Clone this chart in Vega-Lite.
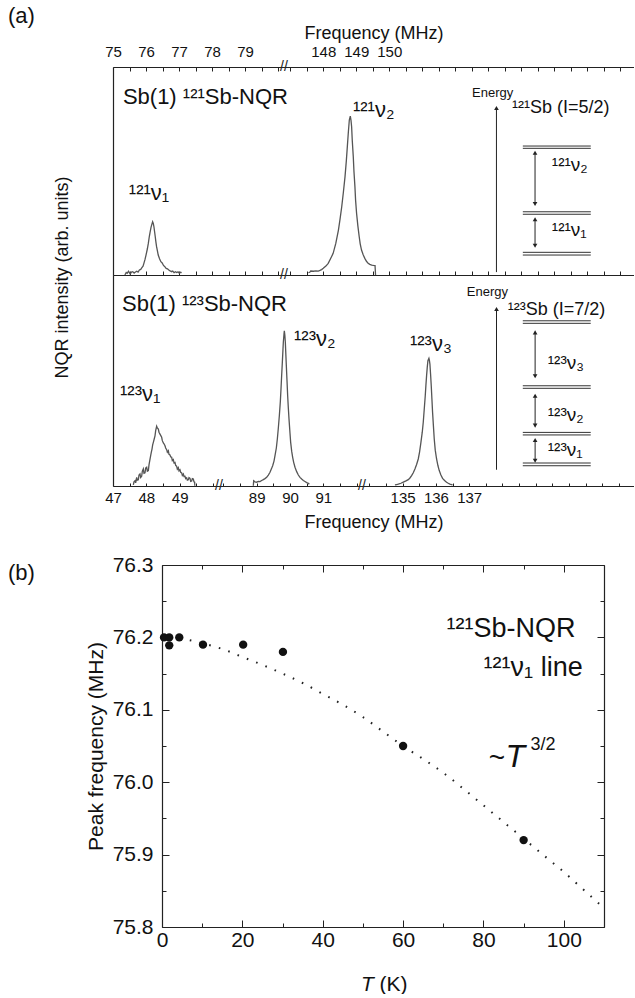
{
"$schema": "https://vega.github.io/schema/vega-lite/v6.json",
"padding": {"left": 8, "top": 5, "right": 0, "bottom": 0},
"config": {
  "font": "Liberation Sans",
  "view": {"stroke": null},
  "axis": {"domainColor": "#222", "tickColor": "#222", "labelColor": "#111", "titleColor": "#111", "titleFontWeight": "normal", "grid": false, "domainWidth": 1.2, "tickWidth": 1},
  "title": {"fontWeight": "normal", "color": "#111"}
},
"datasets": {
  "sA1": [
    {"f":75.36,"I":0.0,"s":"n1"},{"f":75.40,"I":0.012,"s":"n1"},{"f":75.43,"I":0.008,"s":"n1"},{"f":75.47,"I":0.018,"s":"n1"},{"f":75.52,"I":0.005,"s":"n1"},{"f":75.56,"I":0.014,"s":"n1"},{"f":75.60,"I":0.016,"s":"n1"},{"f":75.64,"I":0.009,"s":"n1"},{"f":75.67,"I":0.013,"s":"n1"},{"f":75.72,"I":0.018,"s":"n1"},{"f":75.76,"I":0.014,"s":"n1"},{"f":75.80,"I":0.024,"s":"n1"},{"f":75.84,"I":0.027,"s":"n1"},{"f":75.87,"I":0.034,"s":"n1"},{"f":75.91,"I":0.042,"s":"n1"},{"f":75.94,"I":0.058,"s":"n1"},{"f":75.97,"I":0.075,"s":"n1"},{"f":76.00,"I":0.096,"s":"n1"},{"f":76.04,"I":0.125,"s":"n1"},{"f":76.07,"I":0.152,"s":"n1"},{"f":76.10,"I":0.185,"s":"n1"},{"f":76.12,"I":0.203,"s":"n1"},{"f":76.15,"I":0.228,"s":"n1"},{"f":76.17,"I":0.240,"s":"n1"},{"f":76.20,"I":0.256,"s":"n1"},{"f":76.22,"I":0.248,"s":"n1"},{"f":76.24,"I":0.232,"s":"n1"},{"f":76.26,"I":0.208,"s":"n1"},{"f":76.28,"I":0.184,"s":"n1"},{"f":76.30,"I":0.158,"s":"n1"},{"f":76.32,"I":0.136,"s":"n1"},{"f":76.35,"I":0.112,"s":"n1"},{"f":76.37,"I":0.096,"s":"n1"},{"f":76.41,"I":0.078,"s":"n1"},{"f":76.45,"I":0.064,"s":"n1"},{"f":76.49,"I":0.058,"s":"n1"},{"f":76.53,"I":0.046,"s":"n1"},{"f":76.57,"I":0.040,"s":"n1"},{"f":76.61,"I":0.032,"s":"n1"},{"f":76.65,"I":0.030,"s":"n1"},{"f":76.69,"I":0.024,"s":"n1"},{"f":76.73,"I":0.020,"s":"n1"},{"f":76.78,"I":0.016,"s":"n1"},{"f":76.81,"I":0.019,"s":"n1"},{"f":76.85,"I":0.011,"s":"n1"},{"f":76.89,"I":0.016,"s":"n1"},{"f":76.93,"I":0.012,"s":"n1"},{"f":76.97,"I":0.015,"s":"n1"},{"f":77.01,"I":0.008,"s":"n1"},{"f":77.04,"I":0.013,"s":"n1"},{"f":77.08,"I":0.011,"s":"n1"},
    {"f":147.55,"I":0.011,"s":"n2"},{"f":147.59,"I":0.013,"s":"n2"},{"f":147.62,"I":0.019,"s":"n2"},{"f":147.70,"I":0.018,"s":"n2"},{"f":147.78,"I":0.020,"s":"n2"},{"f":147.85,"I":0.019,"s":"n2"},{"f":147.90,"I":0.022,"s":"n2"},{"f":147.95,"I":0.026,"s":"n2"},{"f":148.00,"I":0.032,"s":"n2"},{"f":148.08,"I":0.043,"s":"n2"},{"f":148.15,"I":0.056,"s":"n2"},{"f":148.22,"I":0.078,"s":"n2"},{"f":148.30,"I":0.104,"s":"n2"},{"f":148.38,"I":0.152,"s":"n2"},{"f":148.46,"I":0.216,"s":"n2"},{"f":148.51,"I":0.270,"s":"n2"},{"f":148.56,"I":0.328,"s":"n2"},{"f":148.61,"I":0.398,"s":"n2"},{"f":148.66,"I":0.473,"s":"n2"},{"f":148.70,"I":0.550,"s":"n2"},{"f":148.73,"I":0.617,"s":"n2"},{"f":148.76,"I":0.685,"s":"n2"},{"f":148.79,"I":0.745,"s":"n2"},{"f":148.82,"I":0.764,"s":"n2"},{"f":148.84,"I":0.745,"s":"n2"},{"f":148.86,"I":0.713,"s":"n2"},{"f":148.88,"I":0.645,"s":"n2"},{"f":148.91,"I":0.569,"s":"n2"},{"f":148.93,"I":0.500,"s":"n2"},{"f":148.96,"I":0.425,"s":"n2"},{"f":148.98,"I":0.360,"s":"n2"},{"f":149.01,"I":0.297,"s":"n2"},{"f":149.05,"I":0.235,"s":"n2"},{"f":149.09,"I":0.184,"s":"n2"},{"f":149.12,"I":0.150,"s":"n2"},{"f":149.16,"I":0.120,"s":"n2"},{"f":149.21,"I":0.097,"s":"n2"},{"f":149.26,"I":0.080,"s":"n2"},{"f":149.31,"I":0.066,"s":"n2"},{"f":149.36,"I":0.056,"s":"n2"},{"f":149.41,"I":0.051,"s":"n2"},{"f":149.47,"I":0.048,"s":"n2"},{"f":149.52,"I":0.046,"s":"n2"},{"f":149.57,"I":0.045,"s":"n2"},{"f":149.585,"I":0.0,"s":"n2"}
  ],
  "lA1": [
    {"x1":154.05,"x2":156.11,"y":0.620},{"x1":154.05,"x2":156.11,"y":0.609},
    {"x1":154.05,"x2":156.11,"y":0.304},{"x1":154.05,"x2":156.11,"y":0.292},
    {"x1":154.05,"x2":156.11,"y":0.109},{"x1":154.05,"x2":156.11,"y":0.096}
  ],
  "rA1": [
    {"x":153.25,"y1":0.014,"y2":0.803,"k":"m"},
    {"x":154.42,"y1":0.341,"y2":0.588,"k":"d"},
    {"x":154.42,"y1":0.141,"y2":0.268,"k":"d"}
  ],
  "tA1": [
    {"f":75.30,"I":0.822,"t":"Sb(1) ¹²¹Sb-NQR","r":"big"},
    {"f":75.48,"I":0.36,"t":"¹²¹ν₁","r":"big"},
    {"f":148.90,"I":0.761,"t":"¹²¹ν₂","r":"big"},
    {"f":152.51,"I":0.856,"t":"Energy","r":"energy"},
    {"f":153.72,"I":0.777,"t":"¹²¹Sb (I=5/2)","r":"iso"},
    {"f":154.93,"I":0.501,"t":"¹²¹ν₂","r":"diag"},
    {"f":154.93,"I":0.1875,"t":"¹²¹ν₁","r":"diag"},
    {"f":80.18,"I":1,"t":"//","r":"brk"},
    {"f":80.18,"I":0,"t":"//","r":"brk"}
  ],
  "sA2": [
    {"f":47.61,"I":0.005,"s":"n1"},{"f":47.63,"I":0.02,"s":"n1"},{"f":47.66,"I":0.025,"s":"n1"},{"f":47.68,"I":0.015,"s":"n1"},{"f":47.71,"I":0.041,"s":"n1"},{"f":47.73,"I":0.028,"s":"n1"},{"f":47.76,"I":0.030,"s":"n1"},{"f":47.78,"I":0.052,"s":"n1"},{"f":47.81,"I":0.057,"s":"n1"},{"f":47.83,"I":0.040,"s":"n1"},{"f":47.86,"I":0.046,"s":"n1"},{"f":47.88,"I":0.070,"s":"n1"},{"f":47.91,"I":0.081,"s":"n1"},{"f":47.93,"I":0.060,"s":"n1"},{"f":47.96,"I":0.062,"s":"n1"},{"f":47.98,"I":0.085,"s":"n1"},{"f":48.01,"I":0.089,"s":"n1"},{"f":48.03,"I":0.070,"s":"n1"},{"f":48.06,"I":0.073,"s":"n1"},{"f":48.08,"I":0.100,"s":"n1"},{"f":48.10,"I":0.118,"s":"n1"},{"f":48.13,"I":0.144,"s":"n1"},{"f":48.15,"I":0.160,"s":"n1"},{"f":48.17,"I":0.175,"s":"n1"},{"f":48.19,"I":0.195,"s":"n1"},{"f":48.21,"I":0.207,"s":"n1"},{"f":48.24,"I":0.225,"s":"n1"},{"f":48.26,"I":0.238,"s":"n1"},{"f":48.28,"I":0.262,"s":"n1"},{"f":48.31,"I":0.283,"s":"n1"},{"f":48.33,"I":0.275,"s":"n1"},{"f":48.36,"I":0.270,"s":"n1"},{"f":48.38,"I":0.255,"s":"n1"},{"f":48.41,"I":0.246,"s":"n1"},{"f":48.43,"I":0.240,"s":"n1"},{"f":48.46,"I":0.231,"s":"n1"},{"f":48.48,"I":0.215,"s":"n1"},{"f":48.51,"I":0.204,"s":"n1"},{"f":48.53,"I":0.200,"s":"n1"},{"f":48.56,"I":0.191,"s":"n1"},{"f":48.58,"I":0.180,"s":"n1"},{"f":48.61,"I":0.172,"s":"n1"},{"f":48.63,"I":0.160,"s":"n1"},{"f":48.66,"I":0.167,"s":"n1"},{"f":48.68,"I":0.150,"s":"n1"},{"f":48.71,"I":0.147,"s":"n1"},{"f":48.73,"I":0.138,"s":"n1"},{"f":48.76,"I":0.136,"s":"n1"},{"f":48.78,"I":0.120,"s":"n1"},{"f":48.81,"I":0.125,"s":"n1"},{"f":48.83,"I":0.110,"s":"n1"},{"f":48.86,"I":0.112,"s":"n1"},{"f":48.88,"I":0.098,"s":"n1"},{"f":48.91,"I":0.093,"s":"n1"},{"f":48.93,"I":0.080,"s":"n1"},{"f":48.96,"I":0.087,"s":"n1"},{"f":48.98,"I":0.072,"s":"n1"},{"f":49.01,"I":0.077,"s":"n1"},{"f":49.03,"I":0.065,"s":"n1"},{"f":49.06,"I":0.062,"s":"n1"},{"f":49.08,"I":0.050,"s":"n1"},{"f":49.11,"I":0.057,"s":"n1"},{"f":49.13,"I":0.045,"s":"n1"},{"f":49.16,"I":0.046,"s":"n1"},{"f":49.18,"I":0.035,"s":"n1"},{"f":49.21,"I":0.039,"s":"n1"},{"f":49.23,"I":0.028,"s":"n1"},{"f":49.26,"I":0.030,"s":"n1"},{"f":49.28,"I":0.040,"s":"n1"},{"f":49.31,"I":0.036,"s":"n1"},{"f":49.33,"I":0.022,"s":"n1"},{"f":49.36,"I":0.024,"s":"n1"},{"f":49.38,"I":0.035,"s":"n1"},{"f":49.41,"I":0.033,"s":"n1"},{"f":49.43,"I":0.020,"s":"n1"},{"f":49.45,"I":0.018,"s":"n1"},{"f":49.455,"I":0.001,"s":"n1"},
    {"f":88.90,"I":0.001,"s":"n2"},{"f":88.91,"I":0.025,"s":"n2"},{"f":88.95,"I":0.02,"s":"n2"},{"f":89.00,"I":0.018,"s":"n2"},{"f":89.05,"I":0.022,"s":"n2"},{"f":89.10,"I":0.021,"s":"n2"},{"f":89.15,"I":0.026,"s":"n2"},{"f":89.20,"I":0.030,"s":"n2"},{"f":89.25,"I":0.035,"s":"n2"},{"f":89.30,"I":0.041,"s":"n2"},{"f":89.35,"I":0.052,"s":"n2"},{"f":89.40,"I":0.065,"s":"n2"},{"f":89.44,"I":0.080,"s":"n2"},{"f":89.48,"I":0.096,"s":"n2"},{"f":89.52,"I":0.118,"s":"n2"},{"f":89.55,"I":0.144,"s":"n2"},{"f":89.59,"I":0.180,"s":"n2"},{"f":89.62,"I":0.223,"s":"n2"},{"f":89.65,"I":0.275,"s":"n2"},{"f":89.68,"I":0.333,"s":"n2"},{"f":89.71,"I":0.400,"s":"n2"},{"f":89.73,"I":0.460,"s":"n2"},{"f":89.75,"I":0.525,"s":"n2"},{"f":89.77,"I":0.586,"s":"n2"},{"f":89.79,"I":0.650,"s":"n2"},{"f":89.80,"I":0.681,"s":"n2"},{"f":89.82,"I":0.720,"s":"n2"},{"f":89.83,"I":0.736,"s":"n2"},{"f":89.845,"I":0.715,"s":"n2"},{"f":89.86,"I":0.681,"s":"n2"},{"f":89.875,"I":0.625,"s":"n2"},{"f":89.89,"I":0.570,"s":"n2"},{"f":89.91,"I":0.500,"s":"n2"},{"f":89.93,"I":0.428,"s":"n2"},{"f":89.95,"I":0.370,"s":"n2"},{"f":89.97,"I":0.318,"s":"n2"},{"f":90.00,"I":0.250,"s":"n2"},{"f":90.02,"I":0.207,"s":"n2"},{"f":90.05,"I":0.165,"s":"n2"},{"f":90.08,"I":0.136,"s":"n2"},{"f":90.11,"I":0.112,"s":"n2"},{"f":90.15,"I":0.089,"s":"n2"},{"f":90.20,"I":0.068,"s":"n2"},{"f":90.25,"I":0.052,"s":"n2"},{"f":90.30,"I":0.041,"s":"n2"},{"f":90.35,"I":0.033,"s":"n2"},{"f":90.40,"I":0.026,"s":"n2"},{"f":90.45,"I":0.021,"s":"n2"},{"f":90.50,"I":0.016,"s":"n2"},{"f":90.55,"I":0.013,"s":"n2"},{"f":90.58,"I":0.008,"s":"n2"},
    {"f":134.77,"I":0.005,"s":"n3"},{"f":134.82,"I":0.007,"s":"n3"},{"f":134.87,"I":0.009,"s":"n3"},{"f":134.95,"I":0.013,"s":"n3"},{"f":135.02,"I":0.018,"s":"n3"},{"f":135.10,"I":0.024,"s":"n3"},{"f":135.17,"I":0.030,"s":"n3"},{"f":135.22,"I":0.038,"s":"n3"},{"f":135.27,"I":0.049,"s":"n3"},{"f":135.32,"I":0.063,"s":"n3"},{"f":135.37,"I":0.081,"s":"n3"},{"f":135.42,"I":0.102,"s":"n3"},{"f":135.47,"I":0.128,"s":"n3"},{"f":135.51,"I":0.162,"s":"n3"},{"f":135.55,"I":0.207,"s":"n3"},{"f":135.59,"I":0.255,"s":"n3"},{"f":135.62,"I":0.302,"s":"n3"},{"f":135.65,"I":0.365,"s":"n3"},{"f":135.68,"I":0.428,"s":"n3"},{"f":135.70,"I":0.478,"s":"n3"},{"f":135.72,"I":0.523,"s":"n3"},{"f":135.74,"I":0.562,"s":"n3"},{"f":135.76,"I":0.594,"s":"n3"},{"f":135.79,"I":0.605,"s":"n3"},{"f":135.805,"I":0.595,"s":"n3"},{"f":135.82,"I":0.578,"s":"n3"},{"f":135.84,"I":0.530,"s":"n3"},{"f":135.86,"I":0.475,"s":"n3"},{"f":135.88,"I":0.412,"s":"n3"},{"f":135.90,"I":0.349,"s":"n3"},{"f":135.925,"I":0.285,"s":"n3"},{"f":135.95,"I":0.223,"s":"n3"},{"f":135.98,"I":0.170,"s":"n3"},{"f":136.02,"I":0.128,"s":"n3"},{"f":136.06,"I":0.097,"s":"n3"},{"f":136.10,"I":0.073,"s":"n3"},{"f":136.15,"I":0.052,"s":"n3"},{"f":136.20,"I":0.036,"s":"n3"},{"f":136.26,"I":0.026,"s":"n3"},{"f":136.32,"I":0.018,"s":"n3"},{"f":136.37,"I":0.013,"s":"n3"},{"f":136.42,"I":0.009,"s":"n3"},{"f":136.50,"I":0.005,"s":"n3"}
  ],
  "lA2": [
    {"x1":138.61,"x2":140.65,"y":0.783},{"x1":138.61,"x2":140.65,"y":0.771},
    {"x1":138.61,"x2":140.65,"y":0.475},{"x1":138.61,"x2":140.65,"y":0.463},
    {"x1":138.61,"x2":140.65,"y":0.254},{"x1":138.61,"x2":140.65,"y":0.242},
    {"x1":138.61,"x2":140.65,"y":0.109},{"x1":138.61,"x2":140.65,"y":0.096}
  ],
  "rA2": [
    {"x":137.82,"y1":0.077,"y2":0.839,"k":"m"},
    {"x":138.98,"y1":0.520,"y2":0.728,"k":"d"},
    {"x":138.98,"y1":0.286,"y2":0.428,"k":"d"},
    {"x":138.98,"y1":0.120,"y2":0.218,"k":"d"}
  ],
  "tA2": [
    {"f":47.27,"I":0.831,"t":"Sb(1) ¹²³Sb-NQR","r":"big"},
    {"f":47.21,"I":0.404,"t":"¹²³ν₁","r":"big"},
    {"f":90.12,"I":0.662,"t":"¹²³ν₂","r":"big"},
    {"f":135.22,"I":0.641,"t":"¹²³ν₃","r":"big"},
    {"f":136.93,"I":0.899,"t":"Energy","r":"energy"},
    {"f":138.16,"I":0.81,"t":"¹²³Sb (I=7/2)","r":"iso"},
    {"f":139.36,"I":0.555,"t":"¹²³ν₃","r":"diag"},
    {"f":139.36,"I":0.31,"t":"¹²³ν₂","r":"diag"},
    {"f":139.36,"I":0.144,"t":"¹²³ν₁","r":"diag"},
    {"f":50.18,"I":0,"t":"//","r":"brk"},
    {"f":92.16,"I":0,"t":"//","r":"brk"}
  ],
  "fit": [
    {"T":2,"F":76.200},{"T":5,"F":76.198},{"T":10,"F":76.192},{"T":15,"F":76.184},{"T":20,"F":76.173},{"T":25,"F":76.162},{"T":30,"F":76.150},{"T":35,"F":76.137},{"T":40,"F":76.122},{"T":45,"F":76.107},{"T":50,"F":76.090},{"T":55,"F":76.070},{"T":60,"F":76.050},{"T":65,"F":76.032},{"T":70,"F":76.013},{"T":75,"F":75.991},{"T":80,"F":75.968},{"T":85,"F":75.945},{"T":90,"F":75.922},{"T":95,"F":75.899},{"T":100,"F":75.876},{"T":105,"F":75.851},{"T":110,"F":75.826}
  ],
  "pts": [
    {"T":0.5,"F":76.20},{"T":1.8,"F":76.20},{"T":1.8,"F":76.189},{"T":4.3,"F":76.20},{"T":10.2,"F":76.19},{"T":20.2,"F":76.19},{"T":30.1,"F":76.18},{"T":60.0,"F":76.05},{"T":90.0,"F":75.92}
  ],
  "tB": [
    {"T":102.9,"F":76.2,"t":"¹²¹Sb-NQR","r":"lab"},
    {"T":104.7,"F":76.147,"t":"¹²¹ν₁ line","r":"lab"},
    {"T":81.3,"F":76.021,"t":"~","r":"tilde"},
    {"T":85.5,"F":76.021,"t":"T","r":"T"},
    {"T":91.7,"F":76.044,"t":"3/2","r":"exp"}
  ]
},
"columns": 1,
"spacing": 23,
"concat": [
  {
    "bounds": "flush",
    "spacing": 0,
    "vconcat": [
      {
        "width": 521, "height": 208,
        "title": {"text": "(a)", "anchor": "start", "frame": "group", "fontSize": 22, "dx": -105, "dy": 8},
        "layer": [
          {"data": {"name": "sA1"}, "mark": {"type": "line", "color": "#555", "strokeWidth": 1.3},
           "encoding": {
             "x": {"field": "f", "type": "quantitative",
                   "scale": {"domain": [75, 80.18, 146.81, 157.42], "range": [0, 171, 171, 521], "nice": false, "zero": false},
                   "axis": {"orient": "top", "values": [75,75.5,76,76.5,77,77.5,78,78.5,79,79.5,80,147,147.5,148,148.5,149,149.5,150,150.5,151,151.5,152,152.5,153,153.5,154,154.5,155,155.5,156,156.5,157],
                            "labelExpr": "indexof([75,76,77,78,79,148,149,150], datum.value) >= 0 ? datum.label : ''",
                            "domain": true, "ticks": true,
                            "tickSize": -4, "labelPadding": 12, "labelFontSize": 15, "labelOverlap": false, "labelBound": false, "labelFlush": false,
                            "title": "Frequency (MHz)", "titleFontSize": 18, "titlePadding": 2}},
             "y": {"field": "I", "type": "quantitative", "scale": {"domain": [0, 1], "nice": false, "zero": false},
                   "axis": {"orient": "left", "domain": true, "ticks": false, "labels": false, "title": "NQR intensity (arb. units)", "titleFontSize": 18, "titleX": -51, "titleY": 210, "titleAlign": "center", "titleBaseline": "middle", "titleAngle": -90}},
             "detail": {"field": "s"}
           }},
          {"data": {"name": "lA1"}, "mark": {"type": "rule", "color": "#333", "strokeWidth": 1},
           "encoding": {
             "x": {"field": "x1", "type": "quantitative",
                   "axis": {"orient": "bottom", "values": [75,75.5,76,76.5,77,77.5,78,78.5,79,79.5,80,147,147.5,148,148.5,149,149.5,150,150.5,151,151.5,152,152.5,153,153.5,154,154.5,155,155.5,156,156.5,157], "domain": true, "ticks": true, "labels": false, "tickSize": -4, "title": null}},
             "x2": {"field": "x2"},
             "y": {"field": "y", "type": "quantitative", "axis": null}
           }},
          {"data": {"name": "rA1"}, "mark": {"type": "rule", "color": "#222", "strokeWidth": 1},
           "encoding": {"x": {"field": "x", "type": "quantitative", "axis": null}, "y": {"field": "y1", "type": "quantitative", "axis": null}, "y2": {"field": "y2"}}},
          {"data": {"name": "rA1"}, "mark": {"type": "point", "shape": "triangle-up", "filled": true, "size": 22, "color": "#222", "opacity": 1},
           "encoding": {"x": {"field": "x", "type": "quantitative", "axis": null}, "y": {"field": "y2", "type": "quantitative", "axis": null}}},
          {"data": {"name": "rA1"}, "transform": [{"filter": "datum.k == 'd'"}], "mark": {"type": "point", "shape": "triangle-down", "filled": true, "size": 22, "color": "#222", "opacity": 1},
           "encoding": {"x": {"field": "x", "type": "quantitative", "axis": null}, "y": {"field": "y1", "type": "quantitative", "axis": null}}},
          {"data": {"name": "tA1"}, "transform": [{"filter": "datum.r == 'big'"}], "mark": {"type": "text", "align": "left", "baseline": "alphabetic", "fontSize": 22, "color": "#111"},
           "encoding": {"x": {"field": "f", "type": "quantitative", "axis": null}, "y": {"field": "I", "type": "quantitative", "axis": null}, "text": {"field": "t"}}},
          {"data": {"name": "tA1"}, "transform": [{"filter": "datum.r == 'energy'"}], "mark": {"type": "text", "align": "left", "baseline": "alphabetic", "fontSize": 13, "color": "#111"},
           "encoding": {"x": {"field": "f", "type": "quantitative", "axis": null}, "y": {"field": "I", "type": "quantitative", "axis": null}, "text": {"field": "t"}}},
          {"data": {"name": "tA1"}, "transform": [{"filter": "datum.r == 'iso'"}], "mark": {"type": "text", "align": "left", "baseline": "alphabetic", "fontSize": 18, "color": "#111"},
           "encoding": {"x": {"field": "f", "type": "quantitative", "axis": null}, "y": {"field": "I", "type": "quantitative", "axis": null}, "text": {"field": "t"}}},
          {"data": {"name": "tA1"}, "transform": [{"filter": "datum.r == 'diag'"}], "mark": {"type": "text", "align": "left", "baseline": "alphabetic", "fontSize": 19, "color": "#111"},
           "encoding": {"x": {"field": "f", "type": "quantitative", "axis": null}, "y": {"field": "I", "type": "quantitative", "axis": null}, "text": {"field": "t"}}},
          {"data": {"name": "tA1"}, "transform": [{"filter": "datum.r == 'brk'"}], "mark": {"type": "text", "align": "center", "baseline": "middle", "fontSize": 14, "color": "#222"},
           "encoding": {"x": {"field": "f", "type": "quantitative", "axis": null}, "y": {"field": "I", "type": "quantitative", "axis": null}, "text": {"field": "t"}}}
        ],
        "resolve": {"axis": {"x": "independent", "y": "independent"}}
      },
      {
        "width": 521, "height": 211,
        "layer": [
          {"data": {"name": "sA2"}, "mark": {"type": "line", "color": "#555", "strokeWidth": 1.3},
           "encoding": {
             "x": {"field": "f", "type": "quantitative",
                   "scale": {"domain": [47, 50.18, 87.87, 92.16, 133.78, 141.95], "range": [0, 106, 106, 249, 249, 521], "nice": false, "zero": false},
                   "axis": {"orient": "bottom", "values": [47,47.5,48,48.5,49,49.5,50,88,88.5,89,89.5,90,90.5,91,91.5,92,134,134.5,135,135.5,136,136.5,137,137.5,138,138.5,139,139.5,140,140.5,141,141.5],
                            "labelExpr": "indexof([47,48,49,89,90,91,135,136,137], datum.value) >= 0 ? datum.label : ''",
                            "domain": true, "ticks": true,
                            "tickSize": -3, "labelPadding": 7, "labelFontSize": 15, "labelOverlap": false, "labelBound": false, "labelFlush": false,
                            "title": "Frequency (MHz)", "titleFontSize": 18, "titlePadding": 8}},
             "y": {"field": "I", "type": "quantitative", "scale": {"domain": [0, 1], "nice": false, "zero": false},
                   "axis": {"orient": "left", "domain": true, "ticks": false, "labels": false, "title": null}},
             "detail": {"field": "s"}
           }},
          {"data": {"name": "lA2"}, "mark": {"type": "rule", "color": "#333", "strokeWidth": 1},
           "encoding": {"x": {"field": "x1", "type": "quantitative", "axis": null}, "x2": {"field": "x2"}, "y": {"field": "y", "type": "quantitative", "axis": null}}},
          {"data": {"name": "rA2"}, "mark": {"type": "rule", "color": "#222", "strokeWidth": 1},
           "encoding": {"x": {"field": "x", "type": "quantitative", "axis": null}, "y": {"field": "y1", "type": "quantitative", "axis": null}, "y2": {"field": "y2"}}},
          {"data": {"name": "rA2"}, "mark": {"type": "point", "shape": "triangle-up", "filled": true, "size": 22, "color": "#222", "opacity": 1},
           "encoding": {"x": {"field": "x", "type": "quantitative", "axis": null}, "y": {"field": "y2", "type": "quantitative", "axis": null}}},
          {"data": {"name": "rA2"}, "transform": [{"filter": "datum.k == 'd'"}], "mark": {"type": "point", "shape": "triangle-down", "filled": true, "size": 22, "color": "#222", "opacity": 1},
           "encoding": {"x": {"field": "x", "type": "quantitative", "axis": null}, "y": {"field": "y1", "type": "quantitative", "axis": null}}},
          {"data": {"name": "tA2"}, "transform": [{"filter": "datum.r == 'big'"}], "mark": {"type": "text", "align": "left", "baseline": "alphabetic", "fontSize": 22, "color": "#111"},
           "encoding": {"x": {"field": "f", "type": "quantitative", "axis": null}, "y": {"field": "I", "type": "quantitative", "axis": null}, "text": {"field": "t"}}},
          {"data": {"name": "tA2"}, "transform": [{"filter": "datum.r == 'energy'"}], "mark": {"type": "text", "align": "left", "baseline": "alphabetic", "fontSize": 13, "color": "#111"},
           "encoding": {"x": {"field": "f", "type": "quantitative", "axis": null}, "y": {"field": "I", "type": "quantitative", "axis": null}, "text": {"field": "t"}}},
          {"data": {"name": "tA2"}, "transform": [{"filter": "datum.r == 'iso'"}], "mark": {"type": "text", "align": "left", "baseline": "alphabetic", "fontSize": 18, "color": "#111"},
           "encoding": {"x": {"field": "f", "type": "quantitative", "axis": null}, "y": {"field": "I", "type": "quantitative", "axis": null}, "text": {"field": "t"}}},
          {"data": {"name": "tA2"}, "transform": [{"filter": "datum.r == 'diag'"}], "mark": {"type": "text", "align": "left", "baseline": "alphabetic", "fontSize": 19, "color": "#111"},
           "encoding": {"x": {"field": "f", "type": "quantitative", "axis": null}, "y": {"field": "I", "type": "quantitative", "axis": null}, "text": {"field": "t"}}},
          {"data": {"name": "tA2"}, "transform": [{"filter": "datum.r == 'brk'"}], "mark": {"type": "text", "align": "center", "baseline": "middle", "fontSize": 14, "color": "#222"},
           "encoding": {"x": {"field": "f", "type": "quantitative", "axis": null}, "y": {"field": "I", "type": "quantitative", "axis": null}, "text": {"field": "t"}}}
        ],
        "resolve": {"axis": {"x": "independent", "y": "independent"}}
      }
    ]
  },
  {
    "width": 491, "height": 362,
    "title": {"text": "(b)", "anchor": "start", "frame": "group", "fontSize": 22, "dx": -105, "dy": 35},
    "layer": [
      {"data": {"name": "fit"}, "mark": {"type": "line", "color": "#222", "strokeWidth": 2, "strokeDash": [1.6, 8.4], "interpolate": "monotone"},
       "encoding": {
         "x": {"field": "T", "type": "quantitative", "scale": {"domain": [0, 110], "range": [49, 491], "nice": false, "zero": false},
               "axis": {"orient": "bottom", "values": [0,10,20,30,40,50,60,70,80,90,100,110],
                        "labelExpr": "datum.value % 20 === 0 && datum.value < 105 ? datum.label : ''",
                        "tickSize": {"condition": {"test": "datum.value % 20 === 0", "value": -7}, "value": -4},
                        "labelFontSize": 21, "labelPadding": 9, "labelOverlap": false, "labelBound": false, "labelFlush": false,
                        "title": "T", "titleFontSize": 21, "titleFontStyle": "italic", "titleX": 254, "titleY": 63, "titleAlign": "center", "titleBaseline": "alphabetic"}},
         "y": {"field": "F", "type": "quantitative", "scale": {"domain": [75.8, 76.3], "nice": false, "zero": false},
               "axis": {"orient": "left", "offset": -49, "values": [75.8,75.85,75.9,75.95,76,76.05,76.1,76.15,76.2,76.25,76.3],
                        "labelExpr": "abs(datum.value*10 - round(datum.value*10)) < 0.01 ? format(datum.value, '.1f') : ''",
                        "tickSize": {"condition": {"test": "abs(datum.value*10 - round(datum.value*10)) < 0.01", "value": -7}, "value": -4},
                        "labelFontSize": 21, "labelPadding": 16, "labelOverlap": false, "labelBound": false, "labelFlush": false,
                        "title": "Peak frequency (MHz)", "titleFontSize": 21, "titlePadding": 6}}
       }},
      {"data": {"name": "pts"}, "mark": {"type": "point", "filled": true, "size": 70, "color": "#111", "opacity": 1},
       "encoding": {
         "x": {"field": "T", "type": "quantitative",
               "axis": {"orient": "top", "values": [0,10,20,30,40,50,60,70,80,90,100,110], "labels": false,
                        "tickSize": {"condition": {"test": "datum.value % 20 === 0", "value": -7}, "value": -4}, "title": null}},
         "y": {"field": "F", "type": "quantitative",
               "axis": {"orient": "right", "values": [75.8,75.85,75.9,75.95,76,76.05,76.1,76.15,76.2,76.25,76.3], "labels": false,
                        "tickSize": {"condition": {"test": "abs(datum.value*10 - round(datum.value*10)) < 0.01", "value": -7}, "value": -4}, "title": null}}
       }},
      {"data": {"name": "tB"}, "transform": [{"filter": "datum.r == 'lab'"}], "mark": {"type": "text", "align": "right", "baseline": "alphabetic", "fontSize": 27, "color": "#111"},
       "encoding": {
         "x": {"field": "T", "type": "quantitative",
               "axis": {"orient": "bottom", "ticks": false, "labels": false, "domain": false, "title": "(K)", "titleFontSize": 21, "titleX": 280, "titleY": 63, "titleAlign": "center", "titleBaseline": "alphabetic"}},
         "y": {"field": "F", "type": "quantitative", "axis": null},
         "text": {"field": "t"}}},
      {"data": {"name": "tB"}, "transform": [{"filter": "datum.r == 'tilde'"}], "mark": {"type": "text", "align": "left", "baseline": "alphabetic", "fontSize": 28, "color": "#111"},
       "encoding": {"x": {"field": "T", "type": "quantitative", "axis": null}, "y": {"field": "F", "type": "quantitative", "axis": null}, "text": {"field": "t"}}},
      {"data": {"name": "tB"}, "transform": [{"filter": "datum.r == 'exp'"}], "mark": {"type": "text", "align": "left", "baseline": "alphabetic", "fontSize": 18, "color": "#111"},
       "encoding": {"x": {"field": "T", "type": "quantitative", "axis": null}, "y": {"field": "F", "type": "quantitative", "axis": null}, "text": {"field": "t"}}},
      {"data": {"name": "tB"}, "transform": [{"filter": "datum.r == 'T'"}], "mark": {"type": "text", "align": "left", "baseline": "alphabetic", "fontSize": 32, "fontStyle": "italic", "color": "#111"},
       "encoding": {"x": {"field": "T", "type": "quantitative", "axis": null}, "y": {"field": "F", "type": "quantitative", "axis": null}, "text": {"field": "t"}}}
    ],
    "resolve": {"axis": {"x": "independent", "y": "independent"}}
  }
]
}
